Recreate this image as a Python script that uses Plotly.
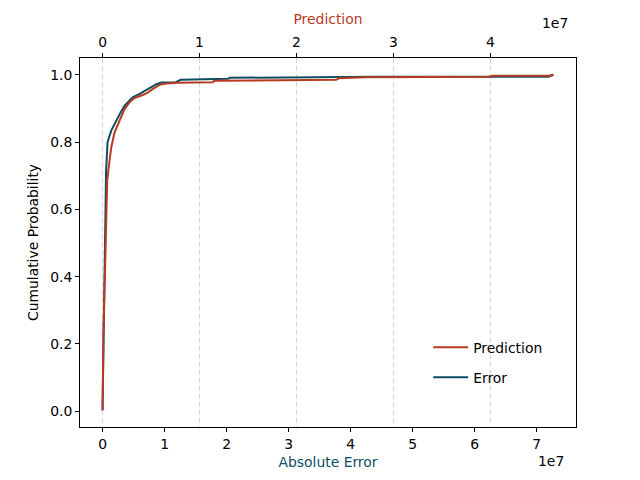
import plotly.graph_objects as go

# ECDF of absolute error (bottom axis, units of 1e7)
err_x = [0.0, 0.016, 0.032, 0.04, 0.057, 0.07, 0.081, 0.14, 0.22, 0.29, 0.356, 0.485,
         0.598, 0.727, 0.868, 0.949, 1.18, 1.26, 2.02, 2.05, 4.35, 4.40, 7.19, 7.27]
err_y = [0.003, 0.24, 0.448, 0.626, 0.715, 0.76, 0.80, 0.834, 0.864, 0.888, 0.908, 0.933,
         0.943, 0.958, 0.972, 0.977, 0.978, 0.985, 0.988, 0.991, 0.993, 0.994, 0.994, 1.0]

# ECDF of prediction (top axis, units of 1e7)
pred_x = [0.0, 0.010, 0.028, 0.041, 0.048, 0.072, 0.090, 0.124, 0.175, 0.227, 0.278, 0.33,
          0.415, 0.467, 0.519, 0.588, 0.657, 0.763, 1.134, 1.155, 2.41, 2.44, 2.70, 3.99,
          4.02, 4.61, 4.65]
pred_y = [0.003, 0.249, 0.448, 0.626, 0.685, 0.745, 0.784, 0.829, 0.864, 0.898, 0.918, 0.931,
          0.940, 0.947, 0.958, 0.970, 0.974, 0.976, 0.978, 0.982, 0.985, 0.990, 0.993, 0.994,
          0.997, 0.997, 1.0]

bottom_ticks = [0, 1, 2, 3, 4, 5, 6, 7]
top_ticks = [0, 1, 2, 3, 4]
y_ticks = [0.0, 0.2, 0.4, 0.6, 0.8, 1.0]
scale = 1e7

RED = "#b83a1f"
TEAL = "#0d4d63"
FONT = "DejaVu Sans"
FS = 13.9


def pad(lo, hi, m=0.05):
    s = hi - lo
    return [lo - m * s, hi + m * s]


ex = [v * scale for v in err_x]
px = [v * scale for v in pred_x]

fig = go.Figure()
fig.add_trace(go.Scatter(x=ex, y=err_y, mode="lines", name="Error",
                         line=dict(color=TEAL, width=2), xaxis="x", yaxis="y",
                         legendgroup="e", legendrank=2))
fig.add_trace(go.Scatter(x=px, y=pred_y, mode="lines", name="Prediction",
                         line=dict(color=RED, width=2), xaxis="x2", yaxis="y",
                         legendgroup="p", legendrank=1))

axis_common = dict(showline=True, linecolor="black", linewidth=1, ticks="outside",
                   ticklen=4, tickwidth=1, tickcolor="black", zeroline=False,
                   tickfont=dict(family=FONT, size=FS, color="black"))

fig.update_layout(
    width=640, height=480,
    margin=dict(l=80, r=64, t=58, b=53),
    paper_bgcolor="white", plot_bgcolor="white",
    font=dict(family=FONT, size=FS, color="black"),
    xaxis=dict(range=pad(min(ex), max(ex)),
               tickvals=[t * scale for t in bottom_ticks],
               ticktext=[str(t) for t in bottom_ticks],
               showgrid=False, mirror=True,
               title=dict(text="Absolute Error", font=dict(color=TEAL, family=FONT, size=FS),
                          standoff=6),
               **axis_common),
    xaxis2=dict(range=pad(min(px), max(px)), overlaying="x", side="top",
                tickvals=[t * scale for t in top_ticks],
                ticktext=[str(t) for t in top_ticks],
                showgrid=True, gridcolor="#d3d3d3", griddash="5px,3px", gridwidth=1,
                title=dict(text="Prediction", font=dict(color=RED, family=FONT, size=FS),
                           standoff=6),
                **axis_common),
    yaxis=dict(range=pad(min(err_y + pred_y), 1.0),
               tickvals=y_ticks, ticktext=[f"{v:.1f}" for v in y_ticks],
               showgrid=False, mirror=True,
               title=dict(text="Cumulative Probability", font=dict(family=FONT, size=FS),
                          standoff=8),
               **axis_common),
    legend=dict(x=0.702, y=0.2585, xanchor="left", yanchor="top",
                bgcolor="rgba(0,0,0,0)", traceorder="grouped", itemwidth=35,
                tracegroupgap=9, font=dict(family=FONT, size=FS, color="black")),
    annotations=[
        dict(text="1e7", xref="paper", yref="paper", x=0.95, y=-0.092,
             showarrow=False, xanchor="center", yanchor="middle",
             font=dict(family=FONT, size=FS, color="black")),
        dict(text="1e7", xref="paper", yref="paper", x=0.958, y=1.0958,
             showarrow=False, xanchor="center", yanchor="middle",
             font=dict(family=FONT, size=FS, color="black")),
    ],
)

fig.write_html("out.html")
